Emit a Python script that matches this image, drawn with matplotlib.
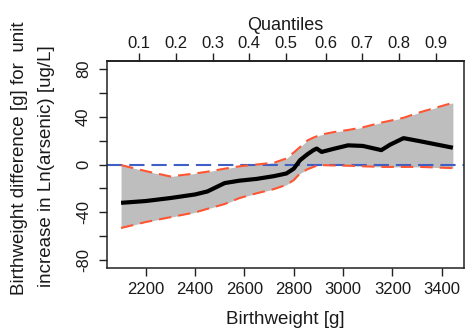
import matplotlib
matplotlib.use("Agg")
import matplotlib.pyplot as plt

plt.rcParams['font.family'] = ['Liberation Sans', 'DejaVu Sans']
plt.rcParams['lines.scale_dashes'] = False

# Data
birthweight = [2100, 2200, 2300, 2400, 2450, 2520, 2580, 2650, 2720, 2770, 2800,
               2825, 2855, 2880, 2893, 2913, 2960, 3020, 3080, 3155, 3190, 3245,
               3310, 3445]
estimate = [-32, -30.5, -28, -25, -22.5, -15.5, -13.5, -12, -9.7, -7.5, -3.5,
            3.5, 8.5, 12, 13.3, 10.5, 13, 16, 15.5, 12, 16.5, 22, 19.5, 14]
upper = [-0.5, -5.5, -10, -7.5, -6, -3.5, -1.5, 0, 1.5, 5, 10,
         14.5, 20, 22.5, 23.5, 25, 27, 28.8, 31, 35, 36.5, 39, 43.5, 51.5]
lower = [-53, -48, -44, -40, -37, -33, -28, -24, -20.5, -17, -13,
         -7.5, -4, -2, -1, -0.5, -0.8, -1, -1.5, -2, -2, -2, -2, -3]

quantile_labels = ["0.1", "0.2", "0.3", "0.4", "0.5", "0.6", "0.7", "0.8", "0.9"]
quantile_positions = [2173, 2323, 2472, 2620, 2769, 2930, 3078, 3228, 3377]

x_ticks = [2200, 2400, 2600, 2800, 3000, 3200, 3400]
y_ticks = [-80, -60, -40, -20, 0, 20, 40, 60, 80]
y_ticklabels = ["-80", "", "-40", "", "0", "", "40", "", "80"]

W, H = 470, 333
fig = plt.figure(figsize=(W / 100, H / 100), dpi=100)
ax = fig.add_axes([107 / W, 1 - 268 / H, (464 - 107) / W, (268 - 61) / H])

txt = '#1a1a1a'

ax.fill_between(birthweight, lower, upper, color='#BEBEBE', linewidth=0, zorder=1)
ax.axhline(0, color='#3F5FC4', linewidth=1.5, dashes=(11, 5), zorder=2)
ax.plot(birthweight, upper, color='#FF5533', linewidth=1.5, dashes=(9, 5), zorder=3)
ax.plot(birthweight, lower, color='#FF5533', linewidth=1.5, dashes=(9, 5), zorder=3)
ax.plot(birthweight, estimate, color='black', linewidth=3, zorder=4,
        solid_capstyle='butt')

ax.set_xlim(2043, 3490)
ax.set_ylim(-86.4, 86.4)

ax.set_xticks(x_ticks)
ax.set_xticklabels([str(v) for v in x_ticks])
ax.set_yticks(y_ticks)
ax.set_yticklabels(y_ticklabels)
for lab in ax.get_yticklabels():
    lab.set_rotation(90)
    lab.set_va('center')

ax.tick_params(axis='both', direction='out', length=5.5, width=1.0,
               labelsize=12, colors='#222222', labelcolor=txt)
ax.tick_params(axis='x', pad=4.5)
ax.tick_params(axis='y', pad=6)

for s in ax.spines.values():
    s.set_linewidth(1.1)
    s.set_color('#222222')

ax.set_xlabel("Birthweight [g]", fontsize=13.5, color=txt, labelpad=10)

sec = ax.secondary_xaxis('top')
sec.set_xticks(quantile_positions)
sec.set_xticklabels(quantile_labels)
sec.tick_params(axis='x', direction='out', length=5.5, width=1.0, labelsize=12,
                colors='#222222', labelcolor=txt, pad=2)
sec.spines['top'].set_linewidth(1.1)
sec.set_xlabel("Quantiles", fontsize=13, color=txt, labelpad=4)

fig.text(20 / W, 1 - 158 / H, "Birthweight difference [g] for  unit",
         rotation=90, ha='center', va='center', fontsize=13.5, color=txt)
fig.text(47 / W, 1 - 166 / H, "increase in Ln(arsenic) [ug/L]",
         rotation=90, ha='center', va='center', fontsize=13.5, color=txt)

fig.savefig("out.png", dpi=100)
